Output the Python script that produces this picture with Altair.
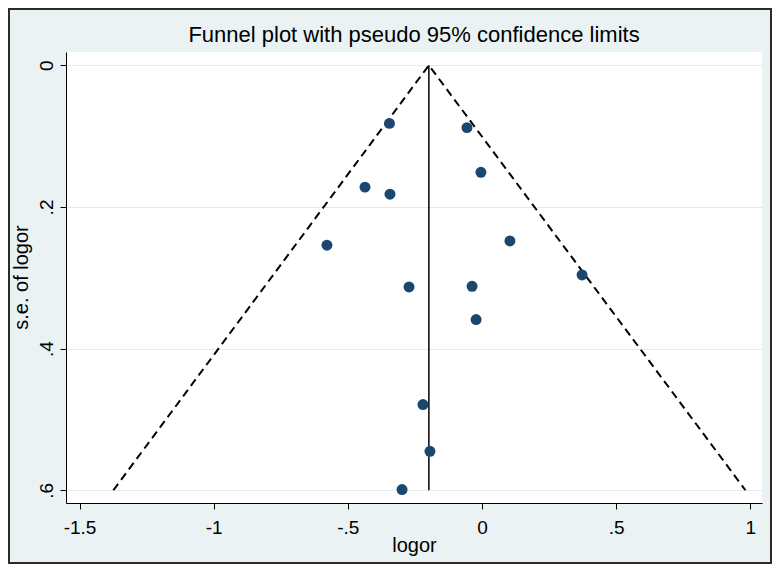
import altair as alt
import pandas as pd

# study estimates (log odds ratio) and their standard errors
logor = [-0.345, -0.056, -0.004, -0.436, -0.343, -0.578, 0.104, 0.373,
         -0.272, -0.037, -0.022, -0.220, -0.194, -0.298]
se = [0.082, 0.088, 0.151, 0.172, 0.182, 0.254, 0.248, 0.296,
      0.313, 0.312, 0.359, 0.479, 0.545, 0.599]

# pooled estimate and pseudo 95% confidence limits
pooled = -0.198
funnel_x = [-1.374, -0.198, 0.982]
funnel_se = [0.6, 0.0, 0.6]
funnel_order = [0, 1, 2]

x_ticks = [-1.5, -1, -0.5, 0, 0.5, 1]
y_ticks = [0, 0.2, 0.4, 0.6]

FONT = "Liberation Sans"
label_expr = "replace(toString(datum.value), '0.', '.')"

pts = pd.DataFrame({"logor": logor, "se": se})
fun = pd.DataFrame({"logor": funnel_x, "se": funnel_se, "o": funnel_order})
mid = pd.DataFrame({"logor": [pooled], "se": [0.0], "se2": [0.6]})

xscale = alt.Scale(domain=[-1.5505, 1.0436], nice=False, zero=False)
yscale = alt.Scale(domain=[-0.0188, 0.618], nice=False, zero=False, reverse=True)

xaxis = alt.Axis(values=x_ticks, labelExpr=label_expr, title="logor",
                 grid=False, tickSize=6, labelPadding=9, labelFontSize=19,
                 titleFontSize=20, titleX=348, titleY=48, titleAnchor="middle",
                 titleAlign="center", titleBaseline="alphabetic")
yaxis = alt.Axis(values=y_ticks, labelExpr=label_expr, title="s.e. of logor",
                 grid=True, tickSize=6, labelPadding=8, labelFontSize=19,
                 labelAngle=270, labelAlign="center", labelBaseline="alphabetic",
                 titleFontSize=20, titleAngle=270, titleX=-39, titleY=225,
                 titleAlign="center", titleBaseline="alphabetic")

points = alt.Chart(pts).mark_circle(size=120, opacity=1, color="#1a476f").encode(
    x=alt.X("logor:Q", scale=xscale, axis=xaxis),
    y=alt.Y("se:Q", scale=yscale, axis=yaxis),
)

funnel = alt.Chart(fun).mark_line(color="black", strokeWidth=2,
                                  strokeDash=[8, 5]).encode(
    x=alt.X("logor:Q", scale=xscale),
    y=alt.Y("se:Q", scale=yscale),
    order="o:Q",
)

vline = alt.Chart(mid).mark_rule(color="black", strokeWidth=1.5).encode(
    x=alt.X("logor:Q", scale=xscale),
    y=alt.Y("se:Q", scale=yscale),
    y2="se2:Q",
)

frame = alt.Chart(pd.DataFrame({"a": [0]})).mark_rect(
    fill=None, stroke="#2b2b2b", strokeWidth=2).encode(
    x=alt.value(-57), x2=alt.value(705), y=alt.value(-43), y2=alt.value(511)
)

chart = alt.layer(frame, funnel, vline, points).properties(
    width=696, height=451,
    title=alt.TitleParams("Funnel plot with pseudo 95% confidence limits",
                          fontSize=22, font=FONT, fontWeight="normal",
                          color="black", anchor="middle", baseline="alphabetic",
                          frame="group", offset=0, dy=56),
    autosize=alt.AutoSizeParams(type="none"),
    padding={"left": 58, "top": 44, "right": 10, "bottom": 61},
    background="#EAF2F3",
).configure_view(fill="white", stroke=None).configure_axis(
    labelFont=FONT, titleFont=FONT, labelColor="black", titleColor="black",
    titleFontWeight="normal", domainColor="black", tickColor="black",
    domainWidth=1, tickWidth=1, gridColor="#E2ECF0", gridWidth=1,
)

chart.save("out.html", embed_options={"renderer": "svg", "actions": False})
